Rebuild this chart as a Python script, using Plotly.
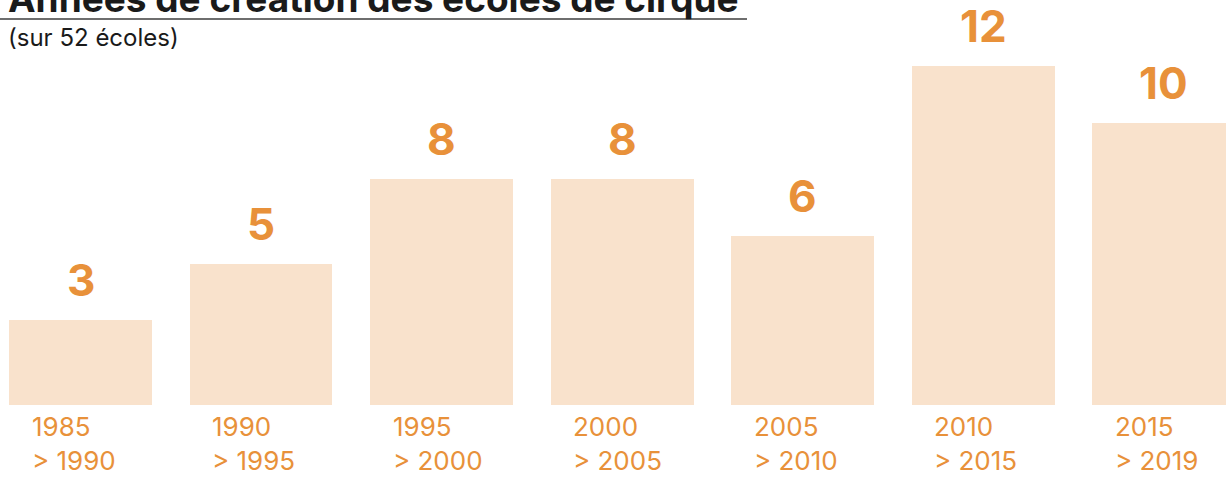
import plotly.graph_objects as go

# Données
CATEGORIES = ["1985-1990", "1990-1995", "1995-2000", "2000-2005", "2005-2010", "2010-2015", "2015-2019"]
NB_ECOLES = [3, 5, 8, 8, 6, 12, 10]
TICK_LABELS = ["1985<br>> 1990", "1990<br>> 1995", "1995<br>> 2000", "2000<br>> 2005",
               "2005<br>> 2010", "2010<br>> 2015", "2015<br>> 2019"]

TITLE = "Années de création des écoles de cirque"
SUBTITLE = "(sur 52 écoles)"

ORANGE = "#E8913A"
PEACH = "#F9E2CC"
INK = "#1A1A1A"
FONT = "Inter, Lato, sans-serif"

W, H = 1226, 477
PLOT_H = 405  # hauteur de la zone de tracé (bas des barres)

fig = go.Figure(
    go.Bar(
        x=CATEGORIES,
        y=NB_ECOLES,
        marker=dict(color=PEACH, line=dict(width=0)),
        width=0.792,
        hoverinfo="skip",
    )
)

# valeurs au-dessus des barres
for cat, v in zip(CATEGORIES, NB_ECOLES):
    fig.add_annotation(
        x=cat, y=v, xref="x", yref="y",
        text=f"<b>{v}</b>", showarrow=False,
        yanchor="bottom", yshift=11,
        font=dict(family=FONT, size=44, color=ORANGE),
    )

# étiquettes des périodes, sur deux lignes alignées à gauche
for cat, lab in zip(CATEGORIES, TICK_LABELS):
    fig.add_annotation(
        x=cat, y=0, xref="x", yref="y",
        text=lab, showarrow=False, align="left",
        xanchor="left", yanchor="top", xshift=-51, yshift=-4,
        font=dict(family=FONT, size=26, color=ORANGE),
    )

# titre (coupé en haut, comme dans l'original) + soulignement + sous-titre
fig.add_annotation(
    x=0, y=1, xref="paper", yref="paper",
    text=f"<b>{TITLE}</b>", showarrow=False,
    xanchor="left", yanchor="bottom", xshift=6, yshift=-23,
    font=dict(family=FONT, size=37, color=INK),
)
fig.add_shape(
    type="line", xref="paper", yref="paper",
    x0=0, x1=747 / W, y0=1 - 19 / PLOT_H, y1=1 - 19 / PLOT_H,
    line=dict(color="#6E6E6E", width=2),
)
fig.add_annotation(
    x=0, y=1 - 21 / PLOT_H, xref="paper", yref="paper",
    text=SUBTITLE, showarrow=False,
    xanchor="left", yanchor="top", xshift=6,
    font=dict(family=FONT, size=24, color=INK),
)

fig.update_layout(
    width=W, height=H,
    margin=dict(l=0, r=0, t=0, b=H - PLOT_H),
    paper_bgcolor="white",
    plot_bgcolor="white",
    showlegend=False,
    bargap=0,
    xaxis=dict(range=[-0.446, 6.346], showticklabels=False, showgrid=False,
               zeroline=False, showline=False, ticks=""),
    yaxis=dict(range=[0, PLOT_H / 28.25], showticklabels=False, showgrid=False,
               zeroline=False, showline=False, ticks=""),
)

fig.write_html(
    "out.html",
    config={"displayModeBar": False},
    post_script="document.body.style.margin='0';",
)
